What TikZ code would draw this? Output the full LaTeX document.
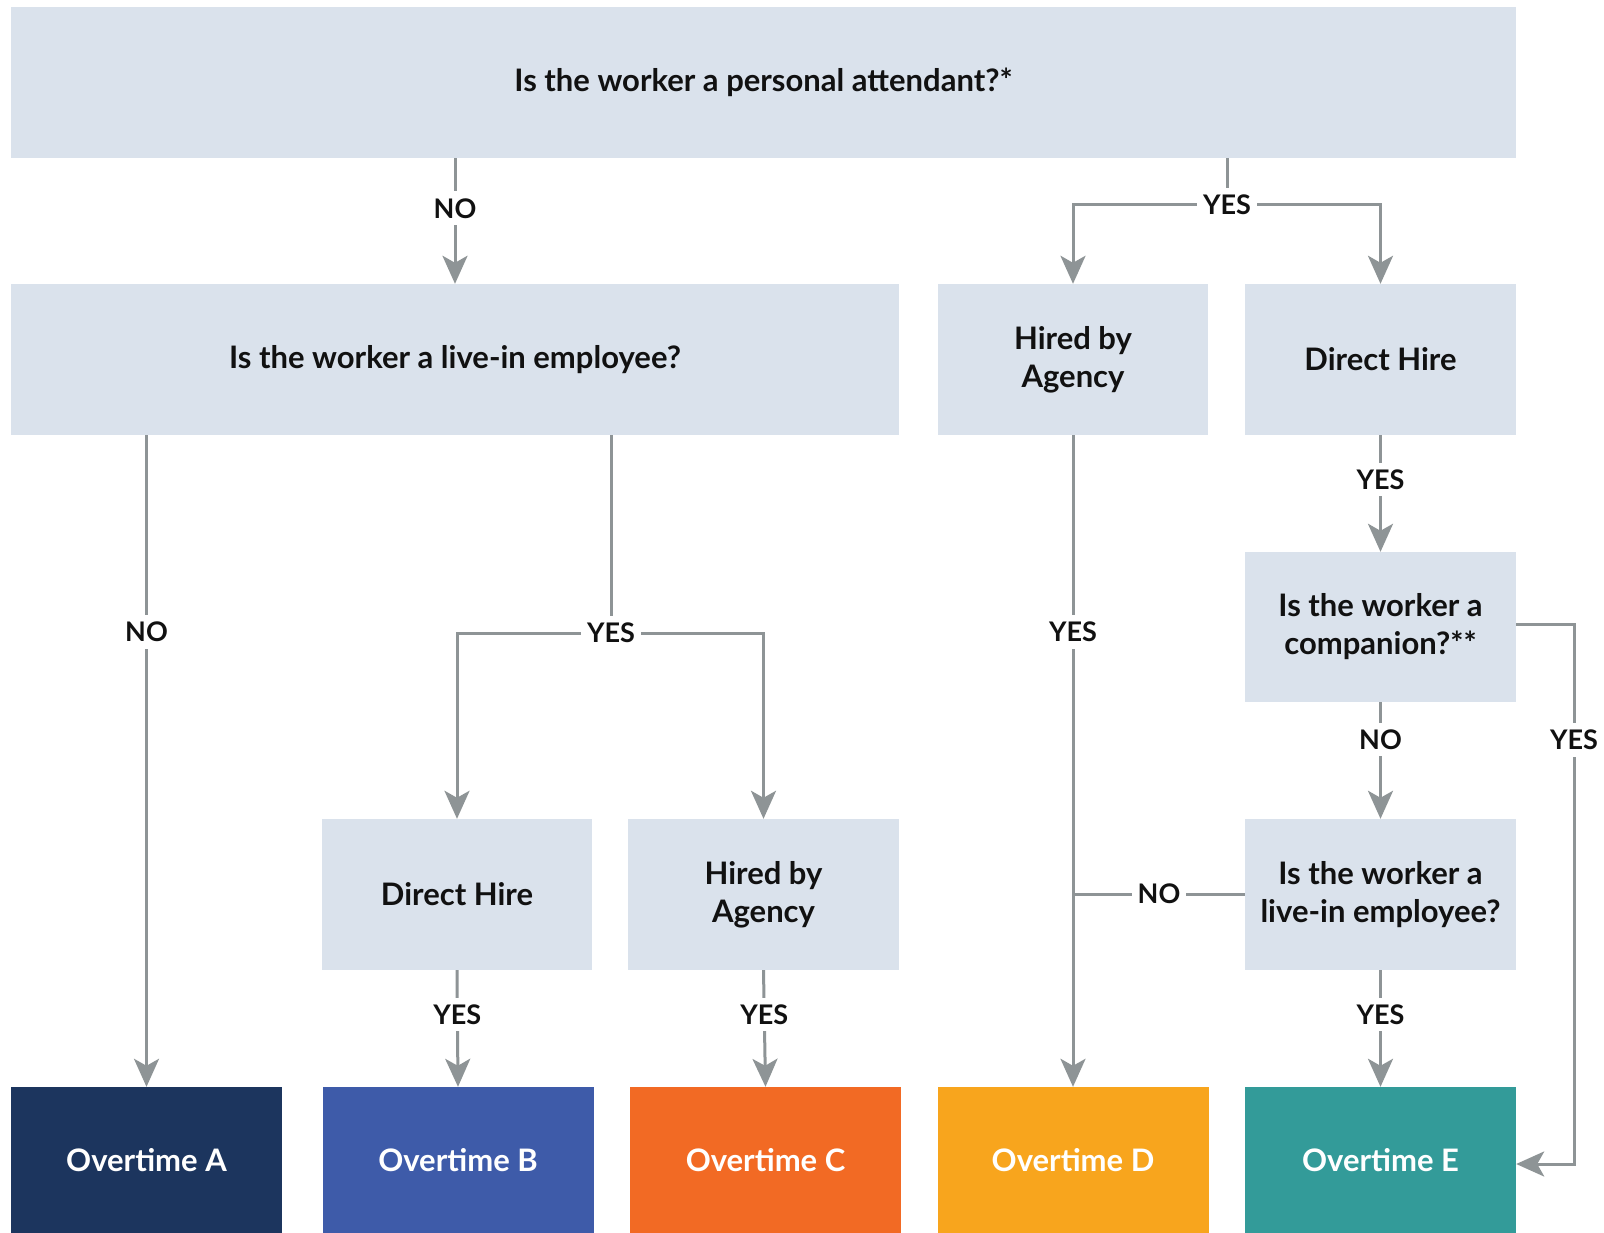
\documentclass[tikz,border=0pt]{standalone}
\usepackage{fontspec}
\setmainfont{Lato}
\usetikzlibrary{arrows.meta}
\definecolor{boxbg}{HTML}{DAE2EC}
\definecolor{linegray}{HTML}{8E9496}
\definecolor{otA}{HTML}{1C355E}
\definecolor{otB}{HTML}{3E5BA9}
\definecolor{otC}{HTML}{F26A24}
\definecolor{otD}{HTML}{F8A51D}
\definecolor{otE}{HTML}{339B99}
\definecolor{txt}{HTML}{111111}
\tikzset{
  qbox/.style={fill=boxbg, inner sep=0pt, align=center, text=txt,
    font=\fontsize{31}{38}\selectfont\bfseries, minimum height=151pt},
  obox/.style={inner sep=0pt, align=center, text=white,
    font=\fontsize{31}{38}\selectfont\bfseries, minimum height=146pt, minimum width=271pt},
  conn/.style={draw=linegray, line width=3pt},
  arr/.style={conn, -{Stealth[length=28pt, width=25pt, inset=7pt]}},
  lbl/.style={fill=white, text=txt, inner xsep=6pt, inner ysep=7pt,
    font=\fontsize{27}{30}\selectfont\bfseries}
}
\begin{document}
\begin{tikzpicture}[x=1pt, y=-1pt]
\useasboundingbox[fill=white] (0,0) rectangle (1604,1233);
% boxes
\node[qbox, minimum width=1505pt] (q1) at (763.5,82.5) {Is the worker a personal attendant?*};
\node[qbox, minimum width=888pt] (q2) at (455,359.5) {Is the worker a live-in employee?};
\node[qbox, minimum width=270pt] (agR) at (1073,359.5) {Hired by\\Agency};
\node[qbox, minimum width=271pt] (dhR) at (1380.5,359.5) {Direct Hire};
\node[qbox, minimum width=271pt, minimum height=150pt] (comp) at (1380.5,627) {Is the worker a\\companion?**};
\node[qbox, minimum width=270pt] (dhL) at (457,894.5) {Direct Hire};
\node[qbox, minimum width=271pt] (agL) at (763.5,894.5) {Hired by\\Agency};
\node[qbox, minimum width=271pt] (liv2) at (1380.5,894.5) {Is the worker a\\live-in employee?};
\node[obox, fill=otA] (oA) at (146.5,1160) {Overtime A};
\node[obox, fill=otB] (oB) at (458,1160) {Overtime B};
\node[obox, fill=otC] (oC) at (765.5,1160) {Overtime C};
\node[obox, fill=otD] (oD) at (1073,1160) {Overtime D};
\node[obox, fill=otE] (oE) at (1380.5,1160) {Overtime E};
% coordinates
\coordinate (yt) at (1227,205);
\coordinate (ytTop) at (yt |- q1.south);
\coordinate (yl) at (611,633);
\coordinate (ylTop) at (yl |- q2.south);
\coordinate (cr) at (1574,624);
\coordinate (crb) at (1574,1164);
\coordinate (nj) at (1073,894);
% connectors
\draw[arr] (q1.south -| q2.north) -- (q2.north) node[lbl, pos=0.4] {NO};
\draw[conn] (ytTop) -- (yt);
\draw[arr] (yt) -| (agR.north);
\draw[arr] (yt) -| (dhR.north);
\node[lbl] at (yt) {YES};
\draw[arr] (q2.south -| oA.north) -- (oA.north) node[lbl, pos=0.302] {NO};
\draw[conn] (ylTop) -- (yl);
\draw[arr] (yl) -| (dhL.north);
\draw[arr] (yl) -| (agL.north);
\node[lbl] at (yl) {YES};
\draw[arr] (agR.south) -- (oD.north) node[lbl, pos=0.302] {YES};
\draw[arr] (dhR.south) -- (comp.north) node[lbl, pos=0.38] {YES};
\draw[arr] (comp.south) -- (liv2.north) node[lbl, pos=0.32] {NO};
\draw[arr] (comp.east |- cr) -- (cr) -- (crb) -- (crb -| oE.east);
\node[lbl] at (1574,740) {YES};
\draw[conn] (liv2.west |- nj) -- (nj);
\node[lbl] at (1159,894) {NO};
\draw[arr] (dhL.south) -- (oB.north) node[lbl, pos=0.38] {YES};
\draw[arr] (agL.south) -- (oC.north) node[lbl, pos=0.38] {YES};
\draw[arr] (liv2.south) -- (oE.north) node[lbl, pos=0.38] {YES};
\end{tikzpicture}
\end{document}
